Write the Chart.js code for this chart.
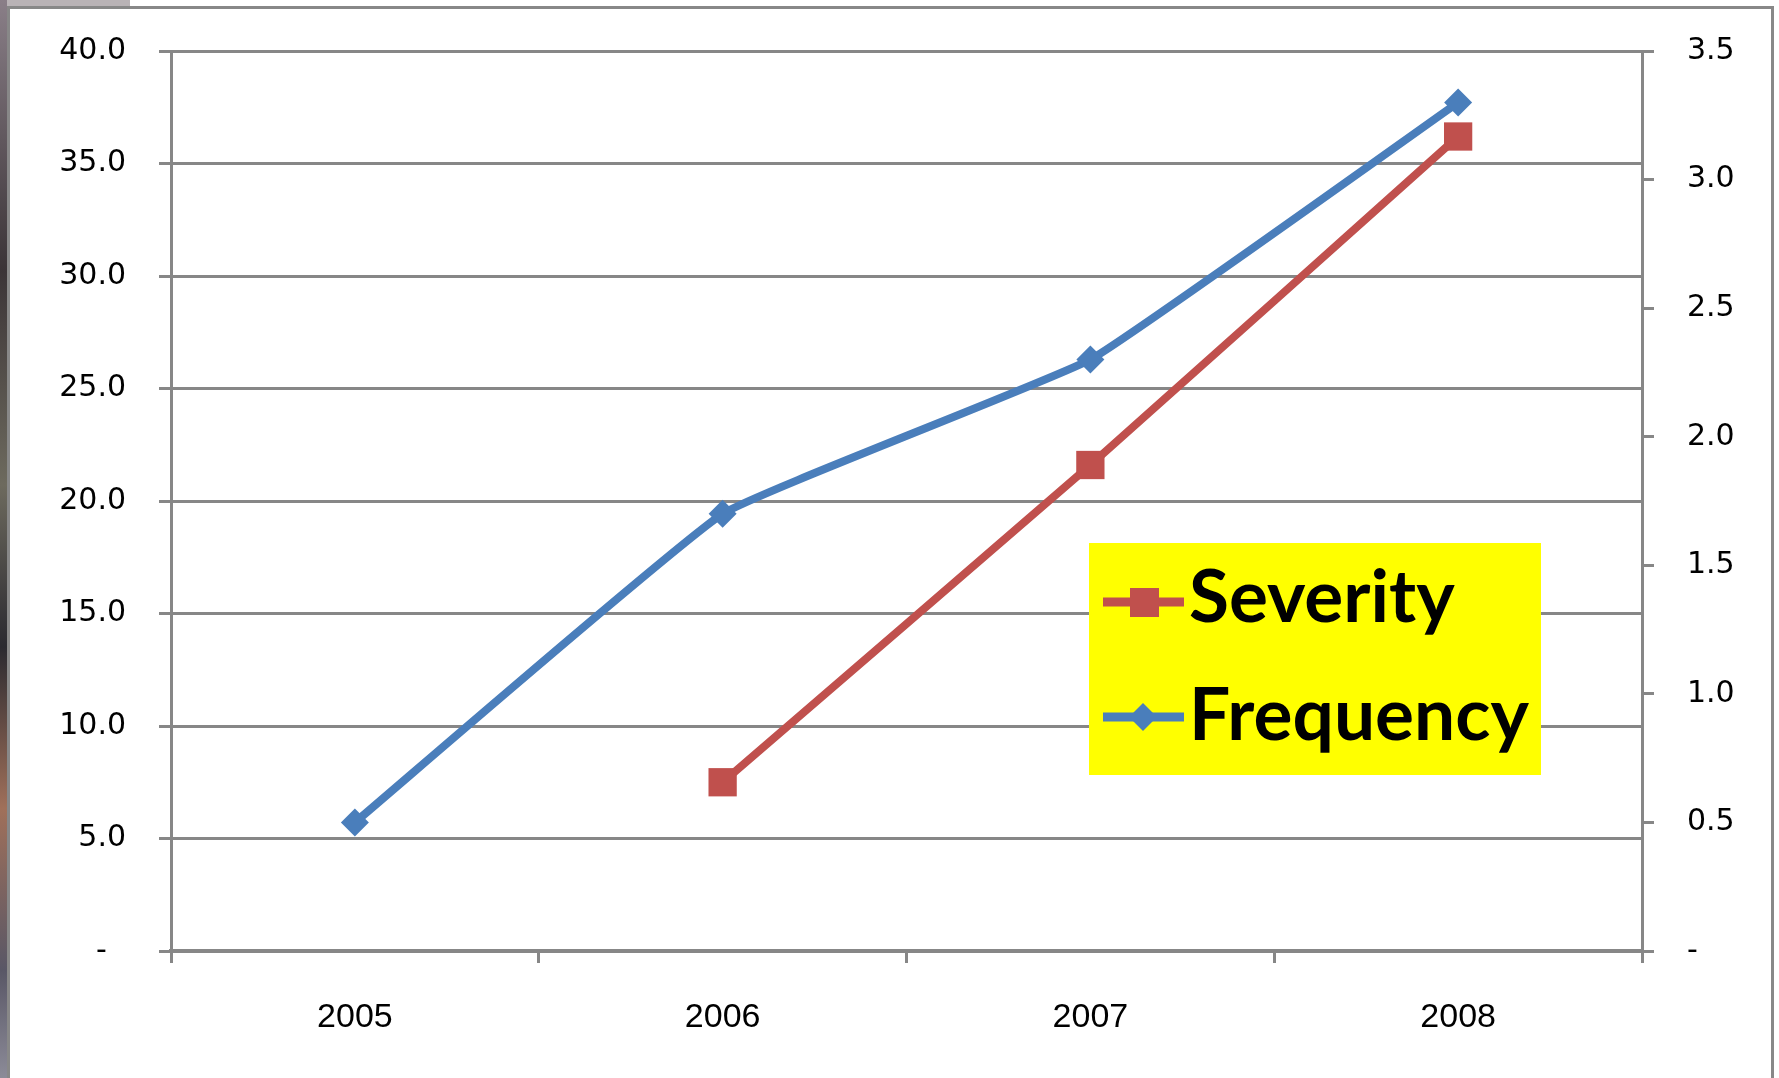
<!DOCTYPE html>
<html>
<head>
<meta charset="utf-8">
<script src="https://cdn.jsdelivr.net/npm/chart.js@4.4.1/dist/chart.umd.min.js"></script>
<style>
  html, body { margin: 0; padding: 0; background: #fff; }
  #wrap { position: relative; width: 1779px; height: 1078px; overflow: hidden; background: #fff; }
  #frame { position: absolute; left: 7px; top: 6px; width: 1761px; height: 1100px;
           border-left: 3px solid #888; border-top: 3px solid #888; border-right: 3px solid #888; }
  #strip { position: absolute; left: 0; top: 0; width: 7px; height: 1078px;
           background: linear-gradient(#8a7f88, #3b3437 25%, #6d6a5e 45%, #2b2a30 60%, #a0705a 75%, #595766 90%, #8c8b98); }
  #topstrip { position: absolute; left: 0; top: 0; width: 1779px; height: 6px; background: #fff; }
  #topstrip::before { content: ""; position: absolute; left: 0; top: 0; width: 130px; height: 6px; background: #b9b3b6; }
  canvas { position: absolute; left: 0; top: 0; }
</style>
</head>
<body>
<div id="wrap">
  <canvas id="grafico" width="1779" height="1078"></canvas>
  <div id="topstrip"></div>
  <div id="strip"></div>
  <div id="frame"></div>
</div>
<script>
  // datos
  const years = ["2005", "2006", "2007", "2008"];
  const severity = [null, 7.5, 21.6, 36.2];   // eje izquierdo
  const frequency = [0.5, 1.7, 2.3, 3.3];     // eje derecho
  const leftMax = 40, leftStep = 5;
  const rightMax = 3.5, rightStep = 0.5;
  const legendNames = ["Severity", "Frequency"];

  const gris = "#878787";
  const rojo = "#C0504D";
  const azul = "#4A7EBB";

  // leyenda amarilla dibujada dentro del area del grafico
  const leyenda = {
    id: "leyenda",
    afterDraw(chart) {
      const ctx = chart.ctx;
      ctx.save();
      ctx.fillStyle = "#FFFF00";
      ctx.fillRect(1089, 543, 452, 232);

      const filas = [
        { y: 602, color: rojo, estilo: "rect", texto: legendNames[0], base: 622 },
        { y: 717, color: azul, estilo: "rectRot", texto: legendNames[1], base: 740 }
      ];
      filas.forEach(f => {
        ctx.strokeStyle = f.color;
        ctx.lineWidth = 9;
        ctx.beginPath();
        ctx.moveTo(1103, f.y);
        ctx.lineTo(1184, f.y);
        ctx.stroke();
        ctx.fillStyle = f.color;
        if (f.estilo === "rect") {
          ctx.fillRect(1130, f.y - 14, 29, 29);
        } else {
          ctx.beginPath();
          ctx.moveTo(1143, f.y - 14);
          ctx.lineTo(1157, f.y);
          ctx.lineTo(1143, f.y + 14);
          ctx.lineTo(1129, f.y);
          ctx.closePath();
          ctx.fill();
        }
        ctx.fillStyle = "#000";
        ctx.font = "bold 73px Lato";
        ctx.textBaseline = "alphabetic";
        ctx.textAlign = "left";
        ctx.fillText(f.texto, 1189, f.base);
      });
      ctx.restore();
    }
  };

  const ctx = document.getElementById("grafico").getContext("2d");
  const chart = new Chart(ctx, {
    type: "line",
    data: {
      labels: years,
      datasets: [
        {
          label: legendNames[0],
          data: severity,
          yAxisID: "y",
          borderColor: rojo,
          backgroundColor: rojo,
          borderWidth: 8,
          pointStyle: "rect",
          pointRadius: 20,
          pointBorderWidth: 0,
          tension: 0.1
        },
        {
          label: legendNames[1],
          data: frequency,
          yAxisID: "y1",
          borderColor: azul,
          backgroundColor: azul,
          borderWidth: 8,
          pointStyle: "rectRot",
          pointRadius: 14,
          pointBorderWidth: 0,
          tension: 0.1
        }
      ]
    },
    options: {
      responsive: false,
      animation: false,
      layout: { padding: { top: 50, left: 0, right: 0, bottom: 0 } },
      plugins: {
        legend: { display: false },
        tooltip: { enabled: false }
      },
      scales: {
        x: {
          offset: true,
          grid: { offset: true, drawOnChartArea: false, drawTicks: true, tickLength: 12, color: gris, lineWidth: 3 },
          border: { color: gris, width: 4 },
          ticks: { color: "#000", font: { family: "Liberation Sans", size: 34 }, padding: 34 },
          afterFit(s) { s.height = 127; }
        },
        y: {
          position: "left",
          min: 0,
          max: leftMax,
          grid: { color: gris, lineWidth: 3, tickLength: 12 },
          border: { color: gris, width: 3 },
          ticks: {
            stepSize: leftStep,
            color: "#000",
            font: { family: "DejaVu Sans", size: 30 },
            padding: 33,
            callback: v => v === 0 ? "-  " : v.toFixed(1)
          },
          afterFit(s) { s.width = 171; }
        },
        y1: {
          position: "right",
          min: 0,
          max: rightMax,
          grid: { drawOnChartArea: false, color: gris, lineWidth: 3, tickLength: 12 },
          border: { color: gris, width: 3 },
          ticks: {
            stepSize: rightStep,
            color: "#000",
            font: { family: "DejaVu Sans", size: 30 },
            padding: 33,
            callback: v => v === 0 ? "-" : v.toFixed(1)
          },
          afterFit(s) { s.width = 137; }
        }
      }
    },
    plugins: [leyenda]
  });
</script>
</body>
</html>
